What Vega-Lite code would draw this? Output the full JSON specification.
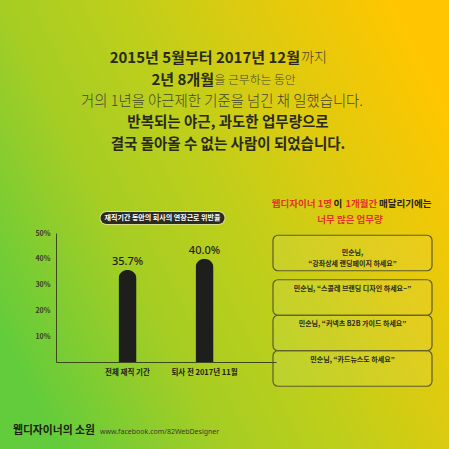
{
  "$schema": "https://vega.github.io/schema/vega-lite/v6.json",
  "width": 449,
  "height": 449,
  "autosize": {"type": "fit", "contains": "padding"},
  "padding": 0,
  "background": "#b5cf1e",
  "config": {"view": {"stroke": null}, "font": "Noto Sans CJK KR"},
  "layer": [
    {
      "data": {"values": [{}]},
      "mark": {
        "type": "rect",
        "color": {
          "gradient": "linear", "x1": 0, "y1": 0.75, "x2": 1, "y2": 0.25,
          "stops": [
            {"offset": 0, "color": "#62cc3c"},
            {"offset": 0.3, "color": "#a6cd24"},
            {"offset": 0.5, "color": "#bccf1b"},
            {"offset": 0.72, "color": "#dccb10"},
            {"offset": 1, "color": "#ffc600"}
          ]
        }
      },
      "encoding": {}
    },
    {
      "encoding": {
        "y": {"field": "line", "type": "ordinal", "scale": {"type": "point", "domain": [1, 2, 3, 4, 5], "range": [58, 145], "padding": 0}, "axis": null},
        "text": {"field": "text"}
      },
      "layer": [
        {"data": {"values": [{"line": 1, "text": "2015년 5월부터 2017년 12월"}]},
         "mark": {"type": "text", "align": "right", "dx": 75.5, "fontSize": 15, "fontWeight": "bold", "color": "#2a2a1c"}},
        {"data": {"values": [{"line": 1, "text": "까지"}]},
         "mark": {"type": "text", "align": "left", "dx": 76.5, "fontSize": 14, "fontWeight": 300, "color": "#45452c"}},
        {"data": {"values": [{"line": 2, "text": "2년 8개월"}]},
         "mark": {"type": "text", "align": "right", "dx": -10.5, "fontSize": 15, "fontWeight": "bold", "color": "#2a2a1c"}},
        {"data": {"values": [{"line": 2, "text": "을 근무하는 동안"}]},
         "mark": {"type": "text", "align": "left", "dx": -10, "fontSize": 11.8, "fontWeight": 300, "color": "#45452c"}},
        {"data": {"values": [{"line": 3, "text": "거의 1년을 야근제한 기준을 넘긴 채 일했습니다."}]},
         "mark": {"type": "text", "align": "center", "dx": -2.5, "fontSize": 14.4, "fontWeight": 300, "color": "#45452c"}},
        {"data": {"values": [{"line": 4, "text": "반복되는 야근, 과도한 업무량으로"}, {"line": 5, "text": "결국 돌아올 수 없는 사람이 되었습니다."}]},
         "mark": {"type": "text", "align": "center", "dx": 3.5, "fontSize": 14.5, "fontWeight": "bold", "color": "#2a2a1c"}}
      ]
    },
    {
      "layer": [
        {
          "data": {"values": [
            {"period": "전체 재직 기간", "rate": 0.357},
            {"period": "퇴사 전 2017년 11월", "rate": 0.4}
          ]},
          "encoding": {
            "x": {
              "field": "period", "type": "nominal", "sort": null,
              "scale": {"domain": ["전체 재직 기간", "퇴사 전 2017년 11월"], "range": [56, 276], "paddingInner": 0.766, "paddingOuter": 0.8117},
              "axis": {"orient": "bottom", "offset": -87, "zindex": 1, "title": null, "labelAngle": 0, "ticks": false, "domainColor": "#3b4a1e", "domainWidth": 1, "labelFontSize": 7.5, "labelFontWeight": "bold", "labelColor": "#202018", "labelPadding": 6}
            },
            "y": {
              "field": "rate", "type": "quantitative",
              "scale": {"domain": [0, 0.5], "range": [362, 233], "nice": false},
              "axis": {"orient": "left", "offset": -56, "zindex": 1, "values": [0.1, 0.2, 0.3, 0.4, 0.5], "format": ".0%", "title": null, "ticks": false, "grid": false, "domainColor": "#3b4a1e", "domainWidth": 1, "labelFontSize": 7, "labelFontWeight": "bold", "labelColor": "#3a3a2a", "labelPadding": 6}
            }
          },
          "layer": [
            {"mark": {"type": "bar", "color": "#1e1e1c", "cornerRadiusTopLeft": 9, "cornerRadiusTopRight": 9}},
            {"mark": {"type": "text", "baseline": "bottom", "dy": -3, "fontSize": 11, "font": "Noto Sans", "fontWeight": 500, "color": "#1e1e1c"},
             "encoding": {"text": {"field": "rate", "type": "quantitative", "format": ".1%"}}}
          ]
        },
        {
          "data": {"values": [{"title": "재직기간 동안의 회사의 연장근로 위반율"}]},
          "encoding": {
            "x": {"datum": "전체 재직 기간", "type": "nominal"},
            "y": {"datum": 0.5, "type": "quantitative"}
          },
          "layer": [
            {"mark": {"type": "rule", "strokeWidth": 14, "strokeCap": "round", "color": "#d8e08a", "xOffset": -21, "x2Offset": 14, "yOffset": -15},
             "encoding": {"x2": {"datum": "퇴사 전 2017년 11월"}}},
            {"mark": {"type": "rule", "strokeWidth": 12, "strokeCap": "round", "color": "#2b2b22", "xOffset": -21, "x2Offset": 14, "yOffset": -15},
             "encoding": {"x2": {"datum": "퇴사 전 2017년 11월"}}},
            {"mark": {"type": "text", "dx": 35, "dy": -15, "fontSize": 7, "fontWeight": "bold", "color": "#ffffff"},
             "encoding": {"text": {"field": "title"}}}
          ]
        }
      ]
    },
    {
      "data": {"values": [
        {"box": "b1", "text": "민순님,\n“강좌상세 랜딩페이지 하세요”"},
        {"box": "b2", "text": "민순님, “스콜레 브랜딩 디자인 하세요~”"},
        {"box": "b3", "text": "민순님, “커넥츠 B2B 가이드 하세요”"},
        {"box": "b4", "text": "민순님, “카드뉴스도 하세요”"}
      ]},
      "encoding": {
        "x": {"datum": "업무", "type": "nominal", "scale": {"domain": ["업무"], "range": [273, 432], "paddingInner": 0, "paddingOuter": 0}, "axis": null},
        "y": {"field": "box", "type": "nominal", "scale": {"domain": ["b1", "b2", "b3", "b4"], "range": [235.25, 377.25], "paddingInner": 0, "paddingOuter": 0}, "axis": null}
      },
      "layer": [
        {"transform": [{"filter": "datum.box == 'b1'"}],
         "mark": {"type": "rect", "fill": "#ffffff", "fillOpacity": 0.07, "stroke": "#5e5b2a", "strokeWidth": 1.2, "cornerRadius": 5}},
        {"transform": [{"filter": "datum.box != 'b1'"}],
         "mark": {"type": "rect", "fill": "#ffffff", "fillOpacity": 0.07, "stroke": "#5e5b2a", "strokeWidth": 1.2, "cornerRadius": 5, "yOffset": 9, "y2Offset": -9}},
        {"mark": {"type": "text", "fontSize": 7, "fontWeight": "bold", "lineBreak": "\n", "lineHeight": 11, "color": "#2a2a1c"},
         "encoding": {"text": {"field": "text"}}},
        {"data": {"values": [{"t": "웹디자이너 1명"}]},
         "mark": {"type": "text", "align": "right", "dx": -20.5, "dy": -49, "fontSize": 9.5, "fontWeight": "bold", "color": "#e5322a"},
         "encoding": {"y": {"datum": "b1"}, "text": {"field": "t"}}},
        {"data": {"values": [{"t": "이"}]},
         "mark": {"type": "text", "align": "left", "dx": -19, "dy": -49, "fontSize": 9.5, "fontWeight": "bold", "color": "#2a2218"},
         "encoding": {"y": {"datum": "b1"}, "text": {"field": "t"}}},
        {"data": {"values": [{"t": "1개월간"}]},
         "mark": {"type": "text", "align": "left", "dx": -7, "dy": -49, "fontSize": 9.5, "fontWeight": "bold", "color": "#e5322a"},
         "encoding": {"y": {"datum": "b1"}, "text": {"field": "t"}}},
        {"data": {"values": [{"t": "매달리기에는"}]},
         "mark": {"type": "text", "align": "left", "dx": 26.5, "dy": -49, "fontSize": 9.5, "fontWeight": "bold", "color": "#2a2218"},
         "encoding": {"y": {"datum": "b1"}, "text": {"field": "t"}}},
        {"data": {"values": [{"t": "너무 많은 업무량"}]},
         "mark": {"type": "text", "align": "center", "dx": -2.5, "dy": -33.5, "fontSize": 9.5, "fontWeight": "bold", "color": "#e5322a"},
         "encoding": {"y": {"datum": "b1"}, "text": {"field": "t"}}}
      ]
    },
    {
      "data": {"values": [{"name": "웹디자이너의 소원", "url": "www.facebook.com/82WebDesigner"}]},
      "encoding": {},
      "layer": [
        {"mark": {"type": "text", "align": "left", "baseline": "middle", "dx": -211.5, "dy": 206.5, "fontSize": 10.8, "fontWeight": "bold", "color": "#1e1e14"},
         "encoding": {"text": {"field": "name"}}},
        {"mark": {"type": "text", "align": "left", "baseline": "middle", "dx": -124.5, "dy": 207, "fontSize": 7, "font": "Noto Sans", "color": "#3a3a2a"},
         "encoding": {"text": {"field": "url"}}}
      ]
    }
  ],
  "resolve": {"scale": {"x": "independent", "y": "independent"}, "axis": {"x": "independent", "y": "independent"}}
}
